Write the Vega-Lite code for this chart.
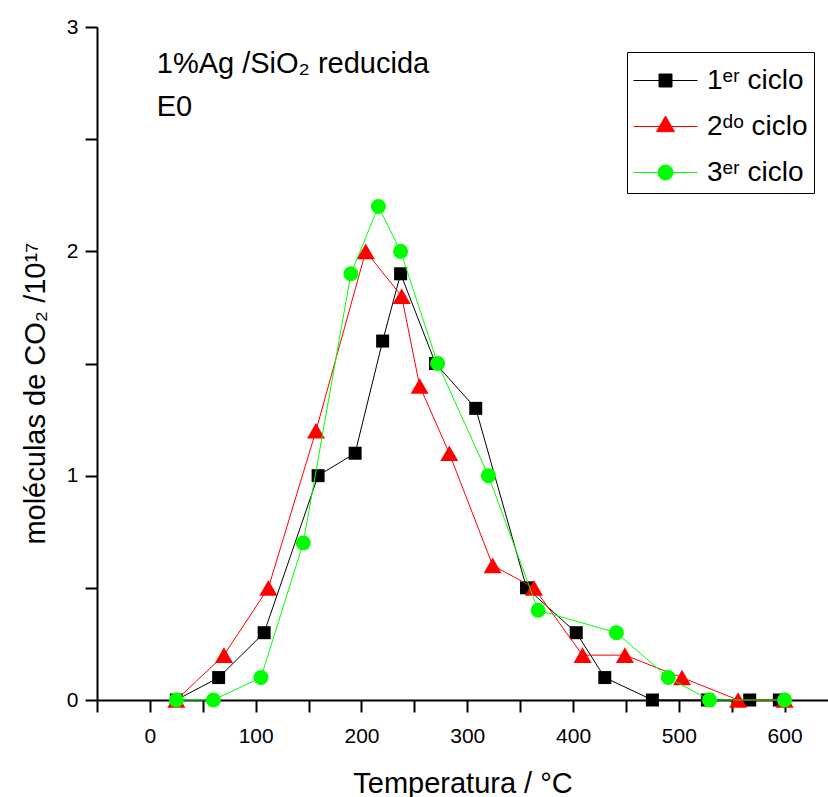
{
  "$schema": "https://vega.github.io/schema/vega-lite/v6.json",
  "width": 731,
  "height": 673,
  "autosize": "none",
  "padding": {"left": 97, "top": 27, "right": 0, "bottom": 97},
  "background": "white",
  "config": {
    "view": {"stroke": null},
    "font": "Liberation Sans",
    "axis": {
      "grid": false,
      "domainColor": "black",
      "domainWidth": 2,
      "tickColor": "black",
      "tickWidth": 2,
      "tickSize": 12,
      "labelFont": "Liberation Sans",
      "labelFontSize": 21,
      "labelColor": "black",
      "labelFlush": false,
      "labelOverlap": false,
      "titleFont": "Liberation Sans",
      "titleFontSize": 29,
      "titleFontWeight": "normal",
      "titleColor": "black"
    }
  },
  "data": {
    "values": [
      {"serie": "1er ciclo", "T": 25, "m": 0},
      {"serie": "1er ciclo", "T": 65, "m": 0.1},
      {"serie": "1er ciclo", "T": 108, "m": 0.3},
      {"serie": "1er ciclo", "T": 159, "m": 1.0},
      {"serie": "1er ciclo", "T": 194, "m": 1.1},
      {"serie": "1er ciclo", "T": 220, "m": 1.6},
      {"serie": "1er ciclo", "T": 237, "m": 1.9},
      {"serie": "1er ciclo", "T": 270, "m": 1.5},
      {"serie": "1er ciclo", "T": 308, "m": 1.3},
      {"serie": "1er ciclo", "T": 356, "m": 0.5},
      {"serie": "1er ciclo", "T": 403, "m": 0.3},
      {"serie": "1er ciclo", "T": 430, "m": 0.1},
      {"serie": "1er ciclo", "T": 475, "m": 0},
      {"serie": "1er ciclo", "T": 527, "m": 0},
      {"serie": "1er ciclo", "T": 567, "m": 0},
      {"serie": "1er ciclo", "T": 595, "m": 0},
      {"serie": "2do ciclo", "T": 25, "m": 0},
      {"serie": "2do ciclo", "T": 70, "m": 0.2},
      {"serie": "2do ciclo", "T": 112, "m": 0.5},
      {"serie": "2do ciclo", "T": 157, "m": 1.2},
      {"serie": "2do ciclo", "T": 204, "m": 2.0},
      {"serie": "2do ciclo", "T": 238, "m": 1.8},
      {"serie": "2do ciclo", "T": 255, "m": 1.4},
      {"serie": "2do ciclo", "T": 283, "m": 1.1},
      {"serie": "2do ciclo", "T": 324, "m": 0.6},
      {"serie": "2do ciclo", "T": 363, "m": 0.5},
      {"serie": "2do ciclo", "T": 409, "m": 0.2},
      {"serie": "2do ciclo", "T": 449, "m": 0.2},
      {"serie": "2do ciclo", "T": 503, "m": 0.1},
      {"serie": "2do ciclo", "T": 556, "m": 0},
      {"serie": "2do ciclo", "T": 600, "m": 0},
      {"serie": "3er ciclo", "T": 25, "m": 0},
      {"serie": "3er ciclo", "T": 60, "m": 0},
      {"serie": "3er ciclo", "T": 105, "m": 0.1},
      {"serie": "3er ciclo", "T": 145, "m": 0.7},
      {"serie": "3er ciclo", "T": 190, "m": 1.9},
      {"serie": "3er ciclo", "T": 216, "m": 2.2},
      {"serie": "3er ciclo", "T": 237, "m": 2.0},
      {"serie": "3er ciclo", "T": 272, "m": 1.5},
      {"serie": "3er ciclo", "T": 320, "m": 1.0},
      {"serie": "3er ciclo", "T": 367, "m": 0.4},
      {"serie": "3er ciclo", "T": 441, "m": 0.3},
      {"serie": "3er ciclo", "T": 490, "m": 0.1},
      {"serie": "3er ciclo", "T": 529, "m": 0},
      {"serie": "3er ciclo", "T": 600, "m": 0}
    ]
  },
  "encoding": {
    "x": {
      "field": "T",
      "type": "quantitative",
      "scale": {"domain": [-50, 641], "nice": false, "zero": false},
      "axis": {
        "values": [-50, 0, 50, 100, 150, 200, 250, 300, 350, 400, 450, 500, 550, 600],
        "labelExpr": "datum.value % 100 === 0 ? format(datum.value, 'd') : ''",
        "labelPadding": 13,
        "title": "Temperatura / °C",
        "titleY": 92,
        "titleBaseline": "alphabetic",
        "encode": {"ticks": {"update": {"y2": {"signal": "datum.value % 100 === 0 ? 12 : 6"}}}}
      }
    },
    "y": {
      "field": "m",
      "type": "quantitative",
      "scale": {"domain": [0, 3], "nice": false},
      "axis": {
        "values": [0, 0.5, 1, 1.5, 2, 2.5, 3],
        "labelExpr": "datum.value % 1 === 0 ? format(datum.value, 'd') : ''",
        "labelPadding": 7,
        "title": "moléculas de CO₂ /10¹⁷",
        "titleX": -53,
        "titleY": 366,
        "titleAngle": -90,
        "titleAlign": "center",
        "titleBaseline": "alphabetic",
        "encode": {"ticks": {"update": {"x2": {"signal": "datum.value % 1 === 0 ? -12 : -7"}}}}
      }
    }
  },
  "layer": [
    {
      "transform": [{"filter": "datum.serie === '1er ciclo'"}],
      "mark": {"type": "line", "color": "#000000", "strokeWidth": 1, "clip": false}
    },
    {
      "transform": [{"filter": "datum.serie === '1er ciclo'"}],
      "mark": {"type": "point", "shape": "square", "size": 169, "filled": true, "color": "#000000", "opacity": 1, "clip": false}
    },
    {
      "transform": [{"filter": "datum.serie === '2do ciclo'"}],
      "mark": {"type": "line", "color": "#ff0000", "strokeWidth": 1, "clip": false}
    },
    {
      "transform": [{"filter": "datum.serie === '2do ciclo'"}],
      "mark": {"type": "point", "shape": "triangle-up", "size": 324, "filled": true, "color": "#ff0000", "opacity": 1, "clip": false}
    },
    {
      "transform": [{"filter": "datum.serie === '3er ciclo'"}],
      "mark": {"type": "line", "color": "#00ff00", "strokeWidth": 1, "clip": false}
    },
    {
      "transform": [{"filter": "datum.serie === '3er ciclo'"}],
      "mark": {"type": "point", "shape": "circle", "size": 225, "filled": true, "color": "#00ff00", "opacity": 1, "clip": false}
    },
    {
      "data": {
        "values": [
          {"txt": "1%Ag /SiO₂ reducida", "T": 6.5, "m": 2.794},
          {"txt": "E0", "T": 6.5, "m": 2.605}
        ]
      },
      "mark": {"type": "text", "align": "left", "baseline": "alphabetic", "fontSize": 29, "font": "Liberation Sans", "color": "black"},
      "encoding": {"text": {"field": "txt"}}
    },
    {
      "transform": [{"filter": "datum.T > 9999"}],
      "mark": {"type": "point", "filled": true, "opacity": 1},
      "encoding": {
        "color": {
          "field": "serie",
          "type": "nominal",
          "scale": {"domain": ["1er ciclo", "2do ciclo", "3er ciclo"], "range": ["#000000", "#ff0000", "#00ff00"]},
          "legend": {
            "title": " ",
            "titleFontSize": 2,
            "titlePadding": 4,
            "orient": "none",
            "legendX": 530,
            "legendY": 25,
            "padding": 6,
            "strokeColor": "black",
            "fillColor": "white",
            "symbolSize": 1024,
            "symbolOffset": 16,
            "labelOffset": 25,
            "rowPadding": 15,
            "labelFontSize": 28,
            "labelFont": "Liberation Sans",
            "labelColor": "black",
            "symbolOpacity": 1,
            "symbolStrokeWidth": 1,
            "labelExpr": "datum.label === '1er ciclo' ? '1ᵉʳ ciclo' : datum.label === '2do ciclo' ? '2ᵈᵒ ciclo' : '3ᵉʳ ciclo'",
            "encode": {"symbols": {"update": {"stroke": {"signal": "datum.index === 0 ? '#000000' : datum.index === 1 ? '#ff0000' : '#00ff00'"}, "strokeWidth": {"value": 1}}}}
          }
        },
        "shape": {
          "field": "serie",
          "type": "nominal",
          "scale": {
            "domain": ["1er ciclo", "2do ciclo", "3er ciclo"],
            "range": [
              "M-2,0H2M-0.406,-0.406H0.406V0.406H-0.406Z",
              "M-2,0H2M0,-0.65L0.5625,0.325L-0.5625,0.325Z",
              "M-2,0H2M0.469,0A0.469,0.469,0,1,1,-0.469,0A0.469,0.469,0,1,1,0.469,0Z"
            ]
          },
          "legend": {
            "title": " ",
            "titleFontSize": 2,
            "titlePadding": 4,
            "orient": "none",
            "legendX": 530,
            "legendY": 25,
            "padding": 6,
            "strokeColor": "black",
            "fillColor": "white",
            "symbolSize": 1024,
            "symbolOffset": 16,
            "labelOffset": 25,
            "rowPadding": 15,
            "labelFontSize": 28,
            "labelFont": "Liberation Sans",
            "labelColor": "black",
            "symbolOpacity": 1,
            "symbolStrokeWidth": 1,
            "labelExpr": "datum.label === '1er ciclo' ? '1ᵉʳ ciclo' : datum.label === '2do ciclo' ? '2ᵈᵒ ciclo' : '3ᵉʳ ciclo'",
            "encode": {"symbols": {"update": {"stroke": {"signal": "datum.index === 0 ? '#000000' : datum.index === 1 ? '#ff0000' : '#00ff00'"}, "strokeWidth": {"value": 1}}}}
          }
        }
      }
    }
  ]
}
